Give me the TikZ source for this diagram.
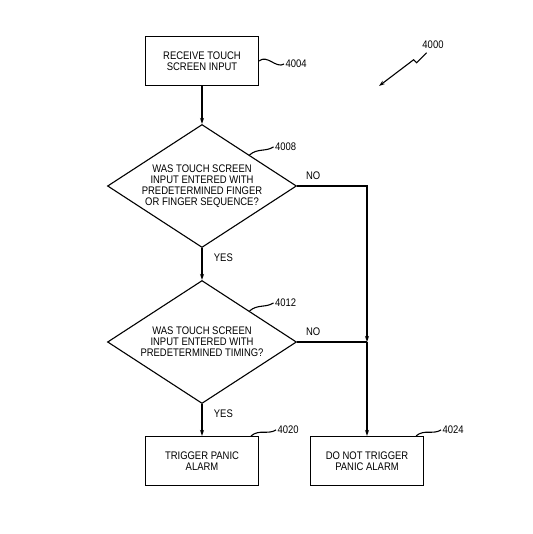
\documentclass[tikz,border=0pt]{standalone}
\usepackage{fontspec}
\setmainfont{Liberation Sans}[FakeStretch=0.86]
\usetikzlibrary{arrows.meta, shapes.geometric}

\begin{document}
\begin{tikzpicture}[x=1pt, y=-1pt, line width=1.1pt,
    >={Stealth[length=6pt, width=4pt]},
    every node/.style={font=\fontsize{11}{11}\selectfont, align=center},
    stepbox/.style={draw, minimum width=113pt, minimum height=49pt},
    decision/.style={draw, diamond, aspect=1.53, inner sep=0pt, minimum width=189pt, minimum height=123pt}]
            \useasboundingbox (0,0) rectangle (532,534);

            \node[stepbox] (receive) at (202,61) {RECEIVE TOUCH\\SCREEN INPUT};
            \node[decision] (finger) at (202,186) {WAS TOUCH SCREEN\\INPUT ENTERED WITH\\PREDETERMINED FINGER\\OR FINGER SEQUENCE?};
            \node[decision] (timing) at (202,342) {WAS TOUCH SCREEN\\INPUT ENTERED WITH\\PREDETERMINED TIMING?};
            \node[stepbox] (trigger) at (202,461) {TRIGGER PANIC\\ALARM};
            \node[stepbox] (notrigger) at (367,461) {DO NOT TRIGGER\\PANIC ALARM};
            \coordinate (join) at (timing.east -| notrigger.north);

            \draw[->] (receive) -- (finger);
            \draw[->] (finger) -- node[pos=0.3, right=8pt] {YES} (timing);
            \draw[->] (timing) -- node[pos=0.3, right=8pt] {YES} (trigger);
            \draw[->] (finger.east) -- node[pos=0.23, above=3pt] {NO} (finger.east -| join) -- (join);
            \draw (timing.east) -- node[pos=0.23, above=3pt] {NO} (join);
            \draw[->] (join) -- (notrigger);

            \draw (receive.east) .. controls +(8,-7) and +(-8,5) .. ++(25,3) node[right, inner sep=1pt] {4004};
            \draw (finger.north east) .. controls +(8,-7) and +(-8,5) .. ++(24,-8) node[right, inner sep=1pt] {4008};
            \draw (timing.north east) .. controls +(8,-7) and +(-8,5) .. ++(24,-8) node[right, inner sep=1pt] {4012};
            \draw ([xshift=-8pt]trigger.north east) .. controls +(8,-7) and +(-8,5) .. ++(25,-6) node[right, inner sep=1pt] {4020};
            \draw ([xshift=-8pt]notrigger.north east) .. controls +(8,-7) and +(-8,5) .. ++(25,-6) node[right, inner sep=1pt] {4024};

            \node (fig) at (433,45) {4000};
            \coordinate (figtip) at (379,86);
            \draw[->] ([xshift=8pt]fig.south west) -- ++(-10,10) -- ++(-3,-3) -- (figtip);
        \end{tikzpicture}
\end{document}
